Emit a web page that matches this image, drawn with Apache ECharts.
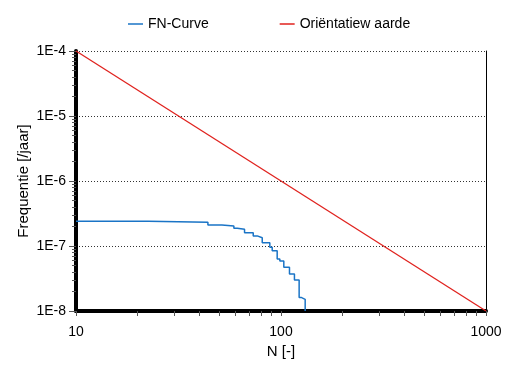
<!DOCTYPE html>
<html>
<head>
<meta charset="utf-8">
<script src="https://cdn.jsdelivr.net/npm/echarts@6/dist/echarts.min.js"></script>
<style>html,body{margin:0;padding:0;background:#fff}#c{width:526px;height:369px}</style>
</head>
<body>
<div id="c"></div>
<script>
// FN-Curve (step) data: N [-] and frequency [/jaar]
const fnN = [10, 22.5, 44.0, 51.5, 58.9, 61.2, 66.4, 73.2, 76.6, 81.0, 88.2, 90.6, 95.8, 98.7, 103.2, 110.0, 116.3, 122.6, 125.4, 131.2];
const fnF = [2.40e-7, 2.32e-7, 2.10e-7, 2.03e-7, 1.87e-7, 1.81e-7, 1.60e-7, 1.43e-7, 1.34e-7, 1.12e-7, 9.55e-8, 8.47e-8, 6.31e-8, 5.87e-8, 4.70e-8, 3.71e-8, 3.00e-8, 1.62e-8, 1.51e-8, 1.0e-8];
// Oriëntatiewaarde line
const refN = [10, 1000];
const refF = [1e-4, 1e-8];
const xMinorTicks = [10,20,30,40,50,60,70,80,90,100,200,300,400,500,600,700,800,900,1000];
const yMinorTicks = [];
[1e-8,1e-7,1e-6,1e-5].forEach(d => { for (let k = 2; k <= 9; k++) yMinorTicks.push(+(k*d).toPrecision(3)); });

const font = "'Liberation Sans', Arial, sans-serif";
const chart = echarts.init(document.getElementById('c'), null, {renderer: 'canvas'});
chart.setOption({
  animation: false,
  backgroundColor: '#fff',
  textStyle: {fontFamily: font, color: '#000'},
  legend: {
    left: 123, top: 12,
    icon: 'rect', itemWidth: 15, itemHeight: 1.5, itemGap: 71,
    textStyle: {fontFamily: font, fontSize: 14, color: '#000'},
    data: ['FN-Curve', 'Oriëntatiew aarde']
  },
  grid: {left: 76, right: 40, top: 51, bottom: 58, containLabel: false},
  xAxis: {
    type: 'log', logBase: 10, min: 10, max: 1000,
    name: 'N [-]', nameLocation: 'middle', nameGap: 31,
    nameTextStyle: {fontFamily: font, fontSize: 15, color: '#000'},
    axisLine: {show: true, lineStyle: {color: '#000', width: 4}},
    axisTick: {show: true, length: 5, inside: false, customValues: xMinorTicks, lineStyle: {color: '#555', width: 1}},
    axisLabel: {fontFamily: font, fontSize: 14, color: '#000', margin: 14,
      formatter: v => String(Math.round(v))},
    splitLine: {show: false},
    minorTick: {show: false}
  },
  yAxis: [{
    type: 'log', logBase: 10, min: 1e-8, max: 1e-4,
    name: 'Frequentie [/jaar]', nameLocation: 'middle', nameGap: 45, nameMoveOverlap: false,
    nameTextStyle: {fontFamily: font, fontSize: 15, color: '#000'},
    axisLine: {show: true, lineStyle: {color: '#000', width: 4}},
    axisTick: {show: true, length: 7, inside: false, lineStyle: {color: '#555', width: 1}},
    axisLabel: {fontFamily: font, fontSize: 14, color: '#000', margin: 10,
      formatter: v => '1E' + Math.round(Math.log10(v))},
    splitLine: {show: true, lineStyle: {color: '#333', width: 1, type: [1, 2]}}
  }, {
    type: 'log', logBase: 10, min: 1e-8, max: 1e-4, position: 'left',
    axisLine: {show: false},
    axisTick: {show: true, length: 4, inside: false, customValues: yMinorTicks, lineStyle: {color: '#555', width: 1}},
    axisLabel: {show: false},
    splitLine: {show: false}
  }, {
    type: 'log', logBase: 10, min: 1e-8, max: 1e-4, position: 'right',
    axisLine: {show: true, lineStyle: {color: '#000', width: 1}},
    axisTick: {show: false},
    axisLabel: {show: false},
    splitLine: {show: false}
  }],
  series: [{
    name: 'FN-Curve', type: 'line', step: 'end', showSymbol: false, symbol: 'none',
    data: fnN.map((n, i) => [n, fnF[i]]),
    lineStyle: {color: '#1a74c6', width: 1.5}, itemStyle: {color: '#1a74c6'},
    clip: true, z: 3
  }, {
    name: 'Oriëntatiew aarde', type: 'line', showSymbol: false, symbol: 'none',
    data: refN.map((n, i) => [n, refF[i]]),
    lineStyle: {color: '#e0221e', width: 1.3}, itemStyle: {color: '#e0221e'},
    z: 2
  }]
});
</script>
</body>
</html>
